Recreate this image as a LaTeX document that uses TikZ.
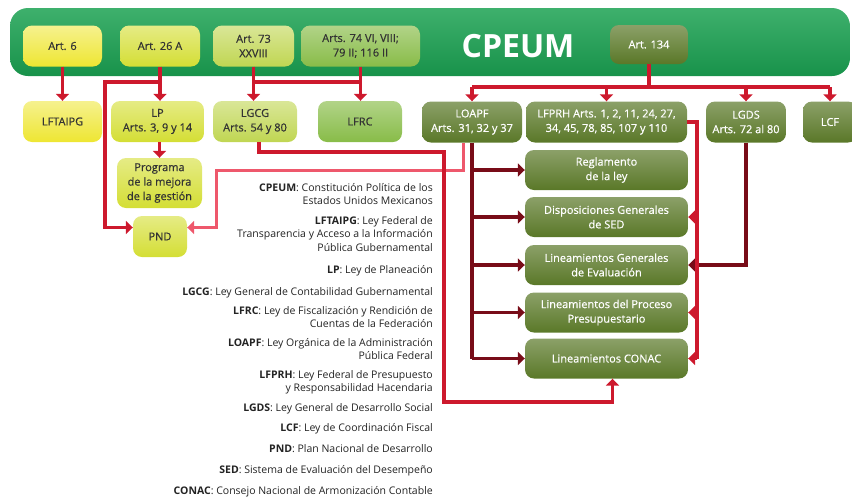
\documentclass[tikz,border=0pt]{standalone}
\usepackage{fontspec}
\setmainfont{Open Sans}
\newfontfamily\boxfont[FakeBold=0.6]{Open Sans}
\usetikzlibrary{positioning,arrows.meta}
\definecolor{bargreen}{RGB}{24,146,74}
\definecolor{barlight}{RGB}{62,176,108}
\definecolor{yelA}{RGB}{238,230,50}
\definecolor{yelB}{RGB}{212,222,52}
\definecolor{limeC}{RGB}{192,214,82}
\definecolor{leafD}{RGB}{136,188,72}
\definecolor{oliveE}{RGB}{90,120,40}
\definecolor{linkred}{RGB}{205,25,45}
\definecolor{linkpink}{RGB}{238,88,108}
\definecolor{linkmaroon}{RGB}{120,12,24}
\definecolor{legtext}{RGB}{35,35,35}
\tikzset{
  >={Triangle[width=13pt,length=7pt]},
  box/.style     ={rounded corners=9pt, minimum height=41pt, inner sep=2pt, align=center,
                   font=\boxfont\fontsize{11}{14.5}\selectfont},
  yelbox/.style  ={box, top color=yelA!55!white, bottom color=yelA, text=black!80},
  yelBbox/.style ={box, top color=yelB!60!white, bottom color=yelB, text=black!80},
  limebox/.style ={box, top color=limeC!60!white, bottom color=limeC, text=black!80},
  leafbox/.style ={box, top color=leafD!65!white, bottom color=leafD, text=black!80},
  olivebox/.style={box, top color=oliveE!70!white, bottom color=oliveE, text=white},
  link/.style    ={line width=3.6pt, linkred},
  pinklink/.style={line width=3pt, linkpink},
  darklink/.style={line width=3.6pt, linkmaroon},
  legend/.style  ={anchor=north east, align=right, inner sep=0pt, text=legtext,
                   font=\fontsize{10.5}{13.5}\selectfont},
}

\begin{document}
\begin{tikzpicture}[x=1pt,y=-1pt]
  \useasboundingbox (0,0) rectangle (852,496);
  % header bar
  \shade[top color=barlight, bottom color=bargreen, rounded corners=18pt] (10,8) rectangle (850,76);
  \node[font=\bfseries\fontsize{32}{32}\selectfont, text=white] (cpeum) at (518,46) {CPEUM};

  % articles of the constitution
  \node[yelbox, minimum width=79pt] (art6) at (62.5,46) {Art. 6};
  \node[yelBbox, minimum width=80pt] (art26) at (160,46) {Art. 26 A};
  \node[limebox, minimum width=81pt] (art73) at (253.5,46) {Art. 73\\XXVIII};
  \node[leafbox, minimum width=119pt] (art74) at (360.5,46) {Arts. 74 VI, VIII;\\79 II; 116 II};
  \node[olivebox, minimum width=78pt, minimum height=39pt] (art134) at (649,44.5) {Art. 134};

  % laws
  \node[yelbox, minimum width=79pt] (lftaipg) at (62.5,121.5) {LFTAIPG};
  \node[yelBbox, minimum width=93pt] (lp) at (157.5,121.5) {LP\\Arts. 3, 9 y 14};
  \node[limebox, minimum width=84pt] (lgcg) at (255,121.5) {LGCG\\Arts. 54 y 80};
  \node[leafbox, minimum width=84pt] (lfrc) at (360,121.5) {LFRC};
  \node[olivebox, minimum width=100pt] (loapf) at (472,122) {LOAPF\\Arts. 31, 32 y 37};
  \node[olivebox, minimum width=161pt] (lfprh) at (606.5,122) {LFPRH Arts. 1, 2, 11, 24, 27,\\34, 45, 78, 85, 107 y 110};
  \node[olivebox, minimum width=80pt] (lgds) at (746,122) {LGDS\\Arts. 72 al 80};
  \node[olivebox, minimum width=54pt] (lcf) at (830,122) {LCF};

  % planning
  \node[yelBbox, minimum width=85pt, minimum height=50pt] (prog) at (159.5,183) {Programa\\de la mejora\\de la gestión};
  \node[yelBbox, minimum width=54pt] (pnd) at (160,236.5) {PND};
  \coordinate (pndL) at ([yshift=9pt]pnd.west);
  \coordinate (pndR) at ([yshift=9pt]pnd.east);

  % instruments
  \node[olivebox, minimum width=163pt, minimum height=40pt] (regl) at (606.5,170) {Reglamento\\de la ley};
  \node[olivebox, minimum width=163pt, minimum height=40pt] (disp) at (606.5,217) {Disposiciones Generales\\de SED};
  \node[olivebox, minimum width=163pt, minimum height=40pt] (lgen) at (606.5,265) {Lineamientos Generales\\de Evaluación};
  \node[olivebox, minimum width=163pt, minimum height=40pt] (lpp) at (606.5,312.5) {Lineamientos del Proceso\\Presupuestario};
  \node[olivebox, minimum width=163pt, minimum height=40pt] (conac) at (606.5,358.5) {Lineamientos CONAC};

  % from the articles
  \draw[link,->] (art6) -- (lftaipg);
  \draw[link,->] (art26.south) -- (art26.south |- lp.north);
  \coordinate (j26) at ([yshift=-15pt]art26.south);
  \draw[link,->] (j26) -| ([xshift=-28pt]pndL) -- (pndL);
  \draw[link,->] (art73.south) -- (art73.south |- lgcg.north);
  \draw[link,->] (art74.south) -- (art74.south |- lfrc.north);
  \draw[link] ([yshift=-15pt]art73.south) -- ([yshift=-15pt]art74.south);
  \draw[link] (art134.south) -- ++(0,23) coordinate (j134);
  \draw[link] (j134 -| loapf) -- (j134 -| lcf);
  \foreach \law in {loapf,lfprh,lgds,lcf}
    \draw[link,->] (j134 -| \law) -- (\law.north);
  \draw[link,->] (lp.south -| prog.north) -- (prog.north);

  % LOAPF to PND
  \coordinate (p1) at (216,170);
  \draw[pinklink,->] ([xshift=-9pt]loapf.south) |- (p1) |- (pndR);

  % LGCG to CONAC
  \coordinate (g1) at (444,152);
  \coordinate (g2) at (444,402);
  \draw[link,->] ([xshift=4pt]lgcg.south) |- (g1) -- (g2) -| ([xshift=6pt]conac.south);

  % LOAPF and LGDS to the instruments
  \draw[darklink] (loapf.south) -- (loapf.south |- conac.west);
  \foreach \inst in {regl,disp,lgen,lpp,conac}
    \draw[darklink,->] (loapf.south |- \inst.west) -- (\inst.west);
  \draw[darklink,->] (lgds.south) |- (lgen.east);

  % LFPRH to the instruments
  \draw[link] (lfprh.east) -- ++(10,0) coordinate (f1) -- (f1 |- conac.east);
  \foreach \inst in {disp,lpp,conac}
    \draw[link,->] (f1 |- \inst.east) -- (\inst.east);

  % legend
  \node[legend] (lgCPEUM) at (433,183) {\textbf{CPEUM}: Constitución Política de los\\Estados Unidos Mexicanos};
  \node[legend] (lgLFTAIPG) at (433,216) {\textbf{LFTAIPG}: Ley Federal de\\Transparencia y Acceso a la Información\\Pública Gubernamental};
  \node[legend] (lgLP) at (433,265) {\textbf{LP}: Ley de Planeación};
  \node[legend] (lgLGCG) at (433,287) {\textbf{LGCG}: Ley General de Contabilidad Gubernamental};
  \node[legend] (lgLFRC) at (433,306) {\textbf{LFRC}: Ley de Fiscalización y Rendición de\\Cuentas de la Federación};
  \node[legend] (lgLOAPF) at (433,338) {\textbf{LOAPF}: Ley Orgánica de la Administración\\Pública Federal};
  \node[legend] (lgLFPRH) at (433,370) {\textbf{LFPRH}: Ley Federal de Presupuesto\\y Responsabilidad Hacendaria};
  \node[legend] (lgLGDS) at (433,403) {\textbf{LGDS}: Ley General de Desarrollo Social};
  \node[legend] (lgLCF) at (433,423) {\textbf{LCF}: Ley de Coordinación Fiscal};
  \node[legend] (lgPND) at (433,444) {\textbf{PND}: Plan Nacional de Desarrollo};
  \node[legend] (lgSED) at (433,465) {\textbf{SED}: Sistema de Evaluación del Desempeño};
  \node[legend] (lgCONAC) at (433,486) {\textbf{CONAC}: Consejo Nacional de Armonización Contable};
\end{tikzpicture}
\end{document}
